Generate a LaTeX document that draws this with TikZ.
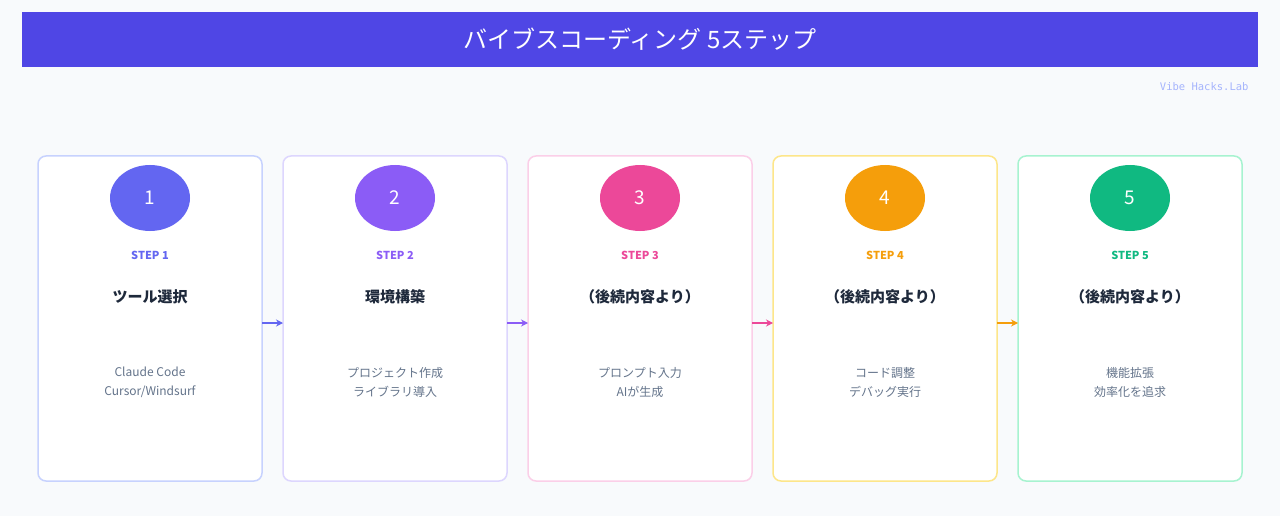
\documentclass[tikz,border=0pt]{standalone}
\usepackage{fontspec}
\setmainfont{Noto Sans CJK JP}
\setmonofont{DejaVu Sans Mono}
\usepackage{tikz}
\usetikzlibrary{arrows.meta}
\usetikzlibrary{positioning}
\usetikzlibrary{shapes.geometric}

\definecolor{bg}{HTML}{F8FAFC}
\definecolor{titlebar}{HTML}{4F46E5}
\definecolor{heading}{HTML}{1E293B}
\definecolor{desc}{HTML}{64748B}
\definecolor{brand}{HTML}{A5B4FC}
\definecolor{cA}{HTML}{6366F1}
\definecolor{cB}{HTML}{8B5CF6}
\definecolor{cC}{HTML}{EC4899}
\definecolor{cD}{HTML}{F59E0B}
\definecolor{cE}{HTML}{10B981}
\definecolor{lA}{HTML}{C7D2FE}
\definecolor{lB}{HTML}{DDD6FE}
\definecolor{lC}{HTML}{FBCFE8}
\definecolor{lD}{HTML}{FDE68A}
\definecolor{lE}{HTML}{A7F3D0}

\begin{document}
\begin{tikzpicture}[x=1pt,y=-1pt,
    card/.style={draw=#1,line width=1.5pt,fill=white,rounded corners=8pt,
      minimum width=224pt,minimum height=325pt,inner sep=0pt,outer sep=0pt},
    badge/.style={ellipse,fill=#1,minimum width=80pt,minimum height=66pt,
      inner sep=0pt,text=white,font=\fontsize{19}{22}\selectfont},
    steplabel/.style={text=#1,font=\bfseries\fontsize{11}{13}\selectfont},
    heading/.style={text=heading,font=\bfseries\fontsize{15}{18}\selectfont},
    desc/.style={text=desc,align=center,font=\fontsize{12}{19}\selectfont},
    flow/.style={draw=#1,line width=2pt,-{Stealth[length=7pt,width=7pt]}}]
  \useasboundingbox[fill=bg] (0,0) rectangle (1280,516);
  % title
  \node[fill=titlebar,minimum width=1236pt,minimum height=55pt,inner sep=0pt,
    text=white,font=\fontsize{24}{28}\selectfont] (title) at (640,39.5) {バイブスコーディング 5ステップ};
  \node[anchor=east,text=brand,font=\ttfamily\fontsize{10.5}{12}\selectfont] (brandname) at (1252,87) {Vibe Hacks.Lab};

  % cards
  \node[card=lA] (card1) at (150,318.5) {};
  \node[card=lB,right=21pt of card1] (card2) {};
  \node[card=lC,right=21pt of card2] (card3) {};
  \node[card=lD,right=21pt of card3] (card4) {};
  \node[card=lE,right=21pt of card4] (card5) {};

  % step 1
  \node[badge=cA] (num1) at (150,198) {1};
  \node[steplabel=cA] (step1) at (150,255) {STEP 1};
  \node[heading] (head1) at (150,297) {ツール選択};
  \node[desc] (desc1) at (150,382) {Claude Code\\Cursor/Windsurf};

  % step 2
  \node[badge=cB] (num2) at (395,198) {2};
  \node[steplabel=cB] (step2) at (395,255) {STEP 2};
  \node[heading] (head2) at (395,297) {環境構築};
  \node[desc] (desc2) at (395,382) {プロジェクト作成\\ライブラリ導入};

  % step 3
  \node[badge=cC] (num3) at (640,198) {3};
  \node[steplabel=cC] (step3) at (640,255) {STEP 3};
  \node[heading] (head3) at (640,297) {（後続内容より）};
  \node[desc] (desc3) at (640,382) {プロンプト入力\\AIが生成};

  % step 4
  \node[badge=cD] (num4) at (885,198) {4};
  \node[steplabel=cD] (step4) at (885,255) {STEP 4};
  \node[heading] (head4) at (885,297) {（後続内容より）};
  \node[desc] (desc4) at (885,382) {コード調整\\デバッグ実行};

  % step 5
  \node[badge=cE] (num5) at (1130,198) {5};
  \node[steplabel=cE] (step5) at (1130,255) {STEP 5};
  \node[heading] (head5) at (1130,297) {（後続内容より）};
  \node[desc] (desc5) at (1130,382) {機能拡張\\効率化を追求};

  % arrows
  \draw[flow=cA] ([yshift=-4.5pt]card1.east) -- ([yshift=-4.5pt]card2.west);
  \draw[flow=cB] ([yshift=-4.5pt]card2.east) -- ([yshift=-4.5pt]card3.west);
  \draw[flow=cC] ([yshift=-4.5pt]card3.east) -- ([yshift=-4.5pt]card4.west);
  \draw[flow=cD] ([yshift=-4.5pt]card4.east) -- ([yshift=-4.5pt]card5.west);
\end{tikzpicture}
\end{document}
